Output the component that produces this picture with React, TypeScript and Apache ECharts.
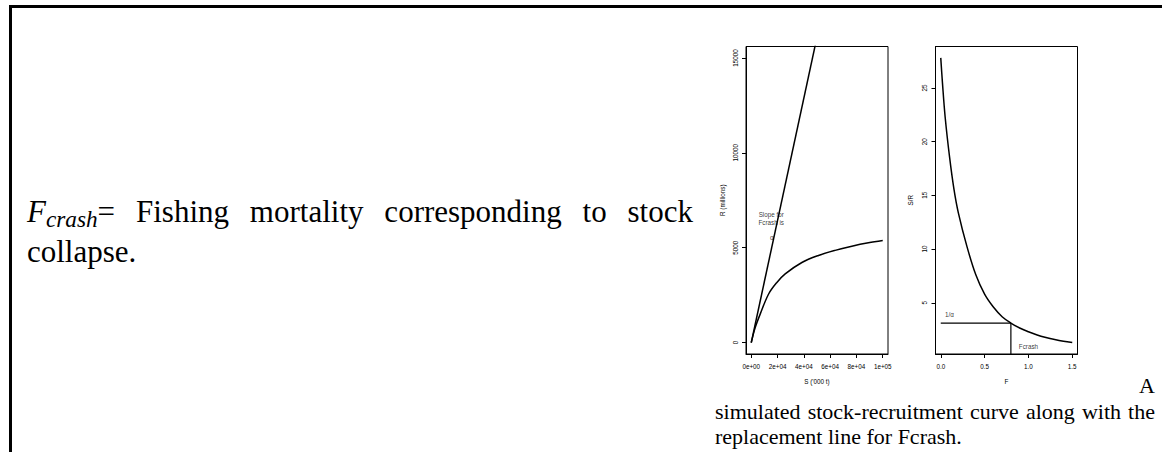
import React, { useEffect, useRef } from "react";
import * as echarts from "echarts";

// ---- Left panel: stock-recruitment ----
const stockS = [0, 3000, 6800, 13200, 19500, 25800, 38500, 51100, 63800, 76500, 89100, 100000];
const recruitR = [0, 790, 1500, 2560, 3170, 3620, 4220, 4590, 4860, 5080, 5260, 5380];
const replaceS = [0, 50000];
const replaceR = [0, 16100];
const leftXTicks = [0, 20000, 40000, 60000, 80000, 100000];
const leftXTickLabels = ["0e+00", "2e+04", "4e+04", "6e+04", "8e+04", "1e+05"];
const leftYTicks = [0, 5000, 10000, 15000];
const leftYTickLabels = ["0", "5000", "10000", "15000"];
const leftNoteX = [15200, 15700];
const leftNoteY = [6540, 5560];
const leftNoteText = ["Slope for\nFcrash is", "α"];

// ---- Right panel: S/R vs F ----
const fishingF = [0, 0.02, 0.05, 0.1, 0.15, 0.2, 0.3, 0.4, 0.5, 0.6, 0.7, 0.8, 0.9, 1.0, 1.1, 1.2, 1.3, 1.4, 1.5];
const spawnPerRecruit = [27.8, 25.4, 22.3, 18.6, 15.6, 13.4, 10.2, 7.6, 5.8, 4.6, 3.7, 3.11, 2.65, 2.3, 2.0, 1.77, 1.58, 1.42, 1.29];
const fcrash = 0.8;
const inverseAlpha = 3.11;
const rightXTicks = [0, 0.5, 1, 1.5];
const rightXTickLabels = ["0.0", "0.5", "1.0", "1.5"];
const rightYTicks = [5, 10, 15, 20, 25];
const rightYTickLabels = ["5", "10", "15", "20", "25"];
const rightNoteX = [0.1, 1.0];
const rightNoteY = [3.9, 0.97];
const rightNoteText = ["1/α", "Fcrash"];

const SANS = "'Liberation Sans', Arial, Helvetica, sans-serif";
const SERIF = "'Liberation Serif', 'Times New Roman', serif";
const TICK_FONT = 6.3;

function lookup(ticks: number[], labels: string[]) {
  return (v: number) => {
    const i = ticks.findIndex((t) => Math.abs(t - v) < 1e-9 * Math.max(1, Math.abs(t)));
    return i >= 0 ? labels[i] : "";
  };
}

function xAxisCfg(grid: number, min: number, max: number, ticks: number[], labels: string[], name: string) {
  return {
    type: "value",
    gridIndex: grid,
    min,
    max,
    name,
    nameLocation: "middle",
    nameGap: 24,
    nameTextStyle: { fontSize: TICK_FONT, color: "#000", fontFamily: SANS },
    axisLine: { show: true, onZero: false, lineStyle: { color: "#000", width: 1 } },
    axisTick: { show: true, inside: false, length: 4, customValues: ticks, lineStyle: { color: "#000", width: 1 } },
    axisLabel: { show: true, customValues: ticks, formatter: lookup(ticks, labels), fontSize: TICK_FONT, color: "#000", fontFamily: SANS, margin: 9 },
    splitLine: { show: false },
  };
}

function yAxisCfg(grid: number, min: number, max: number, ticks: number[], labels: string[], name: string, gap: number) {
  return {
    type: "value",
    gridIndex: grid,
    min,
    max,
    name,
    nameLocation: "middle",
    nameRotate: 90,
    nameGap: gap,
    nameTextStyle: { fontSize: TICK_FONT, color: "#000", fontFamily: SANS },
    axisLine: { show: true, onZero: false, lineStyle: { color: "#000", width: 1 } },
    axisTick: { show: true, inside: false, length: 4, customValues: ticks, lineStyle: { color: "#000", width: 1 } },
    axisLabel: { show: true, rotate: 90, customValues: ticks, formatter: lookup(ticks, labels), fontSize: TICK_FONT, color: "#000", fontFamily: SANS, margin: 8 },
    splitLine: { show: false },
  };
}

function noteSeries(xi: number, yi: number, xs: number[], ys: number[], texts: string[]) {
  return {
    type: "scatter",
    xAxisIndex: xi,
    yAxisIndex: yi,
    symbolSize: 1,
    itemStyle: { color: "rgba(0,0,0,0)" },
    silent: true,
    data: xs.map((x, i) => ({ value: [x, ys[i]], name: texts[i] })),
    label: {
      show: true,
      position: "inside",
      formatter: (p: any) => p.name,
      fontSize: TICK_FONT,
      lineHeight: 8,
      color: "#000",
      textBorderWidth: 0,
      fontFamily: SANS,
      align: "center",
    },
  };
}

const lineStyle = { color: "#000", width: 1.5 };

const option: any = {
  animation: false,
  backgroundColor: "transparent",
  grid: [
    { left: 746, top: 46.5, width: 142, height: 307.5, show: true, borderColor: "#000", borderWidth: 1, backgroundColor: "transparent" },
    { left: 935.5, top: 46.5, width: 142, height: 307.5, show: true, borderColor: "#000", borderWidth: 1, backgroundColor: "transparent" },
  ],
  xAxis: [
    xAxisCfg(0, -4000, 104000, leftXTicks, leftXTickLabels, "S ('000 t)"),
    xAxisCfg(1, -0.06, 1.56, rightXTicks, rightXTickLabels, "F"),
  ],
  yAxis: [
    yAxisCfg(0, -600, 15600, leftYTicks, leftYTickLabels, "R (millions)", 21),
    yAxisCfg(1, 0.23, 28.86, rightYTicks, rightYTickLabels, "S/R", 22),
  ],
  series: [
    {
      type: "line",
      xAxisIndex: 0,
      yAxisIndex: 0,
      data: stockS.map((s, i) => [s, recruitR[i]]),
      smooth: 0.35,
      showSymbol: false,
      clip: true,
      lineStyle,
    },
    {
      type: "line",
      xAxisIndex: 0,
      yAxisIndex: 0,
      data: replaceS.map((s, i) => [s, replaceR[i]]),
      showSymbol: false,
      clip: true,
      lineStyle,
    },
    noteSeries(0, 0, leftNoteX, leftNoteY, leftNoteText),
    {
      type: "line",
      xAxisIndex: 1,
      yAxisIndex: 1,
      data: fishingF.map((f, i) => [f, spawnPerRecruit[i]]),
      smooth: 0.35,
      showSymbol: false,
      clip: true,
      lineStyle,
    },
    {
      type: "line",
      xAxisIndex: 1,
      yAxisIndex: 1,
      data: [[0, inverseAlpha], [fcrash, inverseAlpha]],
      showSymbol: false,
      clip: true,
      lineStyle: { color: "#000", width: 1.2 },
    },
    {
      type: "line",
      xAxisIndex: 1,
      yAxisIndex: 1,
      data: [[fcrash, inverseAlpha], [fcrash, 0]],
      showSymbol: false,
      clip: true,
      lineStyle: { color: "#000", width: 1.2 },
    },
    noteSeries(1, 1, rightNoteX, rightNoteY, rightNoteText),
  ],
};

export default function App() {
  const ref = useRef<HTMLDivElement>(null);
  useEffect(() => {
    if (!ref.current) return;
    const chart = echarts.init(ref.current, null, { renderer: "svg" });
    chart.setOption(option);
    return () => chart.dispose();
  }, []);

  return (
    <div style={{ position: "absolute", left: 0, top: 0, width: 1162, height: 452, background: "#fff", overflow: "hidden" }}>
      <div ref={ref} style={{ position: "absolute", left: 0, top: 0, width: 1162, height: 452 }} />
      <div
        style={{
          position: "absolute",
          left: 9,
          top: 5,
          width: 1160,
          height: 460,
          borderTop: "3px solid #000",
          borderLeft: "3px solid #000",
          boxSizing: "border-box",
          pointerEvents: "none",
        }}
      />
      <div
        style={{
          position: "absolute",
          left: 27,
          top: 193,
          width: 666,
          fontFamily: SERIF,
          fontSize: 31,
          lineHeight: "38px",
          color: "#000",
        }}
      >
        <div style={{ textAlign: "justify", textAlignLast: "justify" }}>
          <i>F</i>
          <i style={{ fontSize: "0.75em", position: "relative", top: "0.22em" }}>crash</i>= Fishing mortality corresponding to stock
        </div>
        <div>collapse.</div>
      </div>
      <div
        style={{
          position: "absolute",
          left: 715,
          top: 373,
          width: 440,
          fontFamily: SERIF,
          fontSize: 22,
          lineHeight: "25.5px",
          color: "#000",
        }}
      >
        <div style={{ textAlign: "right" }}>A</div>
        <div style={{ textAlign: "justify", textAlignLast: "justify", whiteSpace: "nowrap" }}>simulated stock-recruitment curve along with the</div>
        <div>replacement line for Fcrash.</div>
      </div>
    </div>
  );
}
